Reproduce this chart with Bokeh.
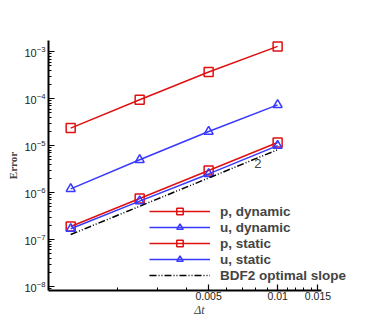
from bokeh.plotting import figure
from bokeh.models import FixedTicker, Range1d, Label, Legend, LegendItem
from bokeh.embed import file_html
from bokeh.resources import INLINE

dt = [0.00125, 0.0025, 0.005, 0.01]
p_dynamic = [2.37e-5, 9.5e-5, 3.7e-4, 1.3e-3]
u_dynamic = [1.2e-6, 5.0e-6, 2.0e-5, 7.4e-5]
p_static = [1.9e-7, 7.5e-7, 2.95e-6, 1.17e-5]
u_static = [1.7e-7, 6.6e-7, 2.5e-6, 1.0e-5]
bdf2_dt = [0.00125, 0.01]
bdf2_err = [1.28e-7, 8.2e-6]
x_major = [0.005, 0.01, 0.015]
x_minor = [0.002, 0.003, 0.004, 0.006, 0.007, 0.008, 0.009, 0.011, 0.012, 0.013, 0.014]
x_labels = ["0.005", "0.01", "0.015"]
x_axis_extent = (0.001, 0.0155)

RED = "#e01010"
BLUE = "#3838ff"

p = figure(width=350, height=319, x_axis_type="log", y_axis_type="log",
           x_range=Range1d(0.001, 0.0208), y_range=Range1d(10**-8.085, 10**-2.76),
           output_backend="svg", toolbar_location=None,
           min_border_left=48, min_border_right=0, min_border_top=40, min_border_bottom=29)
p.outline_line_color = None
p.xgrid.visible = False
p.ygrid.visible = False

for ax in (p.xaxis[0], p.yaxis[0]):
    ax.axis_line_width = 2
    ax.major_tick_in = 6
    ax.major_tick_out = 0
    ax.minor_tick_in = 3
    ax.minor_tick_out = 0
    ax.major_tick_line_width = 1.2
    ax.minor_tick_line_width = 1
    ax.major_label_text_font = "Liberation Sans"
    ax.major_label_text_color = "#222222"

p.xaxis.bounds = x_axis_extent
p.xaxis.ticker = FixedTicker(ticks=x_major, minor_ticks=x_minor)
p.xaxis.major_label_overrides = {x: s for x, s in zip(x_major, x_labels)}
p.xaxis.major_label_text_font_size = "10.5px"
p.xaxis.major_label_standoff = 1
p.xaxis.axis_label = "Δt"
p.xaxis.axis_label_text_font = "Liberation Serif"
p.xaxis.axis_label_text_font_style = "italic"
p.xaxis.axis_label_text_font_size = "12px"
p.xaxis.axis_label_standoff = 0

p.yaxis.major_label_text_font_size = "11px"
p.yaxis.major_label_standoff = 3
p.yaxis.axis_label = "Error"
p.yaxis.axis_label_text_font = "Liberation Serif"
p.yaxis.axis_label_text_font_style = "bold"
p.yaxis.axis_label_text_font_size = "11px"
p.yaxis.axis_label_standoff = 2

series = [
    ("p, dynamic", p_dynamic, RED, "square"),
    ("u, dynamic", u_dynamic, BLUE, "triangle"),
    ("p, static", p_static, RED, "square"),
    ("u, static", u_static, BLUE, "triangle"),
]
items = []
for name, vals, col, mk in series:
    l = p.line(dt, vals, line_color=col, line_width=1.5)
    s = p.scatter(dt, vals, marker=mk, size=9, line_color=col, line_width=1.5, fill_color=None)
    items.append(LegendItem(label=name, renderers=[l, s]))

b = p.line(bdf2_dt, bdf2_err, line_color="black", line_width=1.5, line_dash="7 2 1 2 1 2")
items.append(LegendItem(label="BDF2 optimal slope", renderers=[b]))

p.add_layout(Label(x=0.0082, y=4.14e-6, text="2", text_font="Liberation Sans",
                   text_font_size="13px", text_align="center", text_baseline="middle"))

legend = Legend(items=items, location=(101, 7), padding=0, margin=0, spacing=0,
                glyph_width=61, glyph_height=16, label_height=16, label_standoff=10,
                label_text_font="Liberation Sans", label_text_font_style="bold",
                label_text_font_size="13.5px", border_line_color=None,
                background_fill_alpha=0)
p.add_layout(legend, "center")

open("out.html", "w").write(file_html(p, INLINE))
